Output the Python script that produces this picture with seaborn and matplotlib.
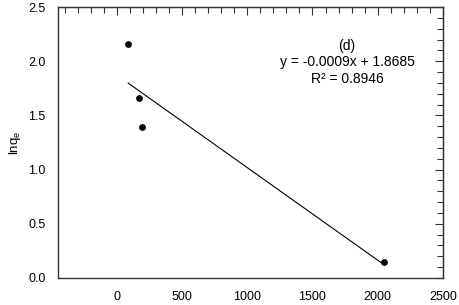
import pandas as pd
import matplotlib
matplotlib.use("Agg")
import matplotlib.pyplot as plt
import seaborn as sns
from matplotlib.ticker import MultipleLocator

# 데이터
x_vals = [87, 173, 196, 2046]
lnqe_vals = [2.159, 1.657, 1.393, 0.145]
eq_lines = ["(d)", "y = -0.0009x + 1.8685", "R² = 0.8946"]

sns.set_style("white")
plt.rcParams['font.family'] = ['Liberation Sans', 'DejaVu Sans']
plt.rcParams['mathtext.fontset'] = 'custom'
plt.rcParams['mathtext.rm'] = 'Liberation Sans'

df = pd.DataFrame({"x": x_vals, "lnqe": lnqe_vals})

fig = plt.figure(figsize=(4.59, 3.05), dpi=100)
ax = fig.add_axes([58 / 459, 1 - 278 / 305, (443 - 58) / 459, (278 - 7) / 305])

sns.regplot(data=df, x="x", y="lnqe", ci=None, ax=ax,
            scatter_kws={"s": 24, "color": "black", "alpha": 1, "linewidths": 0},
            line_kws={"color": "black", "lw": 0.8})

ax.set_xlim(-450, 2500)
ax.set_ylim(0, 2.5)
ax.xaxis.set_major_locator(MultipleLocator(500))
ax.xaxis.set_minor_locator(MultipleLocator(100))
ax.yaxis.set_major_locator(MultipleLocator(0.5))
ax.yaxis.set_minor_locator(MultipleLocator(0.1))
ax.yaxis.set_major_formatter(plt.FuncFormatter(lambda v, p: f"{v:.1f}"))
ax.xaxis.set_major_formatter(plt.FuncFormatter(lambda v, p: f"{v:.0f}" if v >= 0 else ""))

ax.tick_params(which="major", direction="out", length=6, width=0.8, labelsize=9,
               color="#333333", labelcolor="black")
ax.tick_params(which="minor", direction="in", length=4, width=0.8, color="#333333")
ax.tick_params(axis="x", pad=3)
ax.tick_params(axis="y", pad=3)

for s in ax.spines.values():
    s.set_color("#333333")
    s.set_linewidth(1.0)

# 위쪽, 오른쪽 눈금 (안쪽)
top = ax.secondary_xaxis("top")
top.xaxis.set_major_locator(MultipleLocator(500))
top.xaxis.set_minor_locator(MultipleLocator(100))
top.tick_params(which="major", direction="in", length=6, width=0.8, labeltop=False, color="#333333")
top.tick_params(which="minor", direction="in", length=4, width=0.8, color="#333333")
right = ax.secondary_yaxis("right")
right.yaxis.set_major_locator(MultipleLocator(0.5))
right.yaxis.set_minor_locator(MultipleLocator(0.1))
right.tick_params(which="major", direction="in", length=6, width=0.8, labelright=False, color="#333333")
right.tick_params(which="minor", direction="in", length=4, width=0.8, color="#333333")

ax.set_xlabel("")
ax.set_ylabel(r"lnq$_\mathrm{e}$", fontsize=9.5, color="black", va="center")
ax.yaxis.set_label_coords(-0.112, 0.5)

ax.text(1765, 1.99, "\n".join(eq_lines), ha="center", va="center", fontsize=10,
        linespacing=1.25, color="black")

fig.savefig("out.png", dpi=100)
